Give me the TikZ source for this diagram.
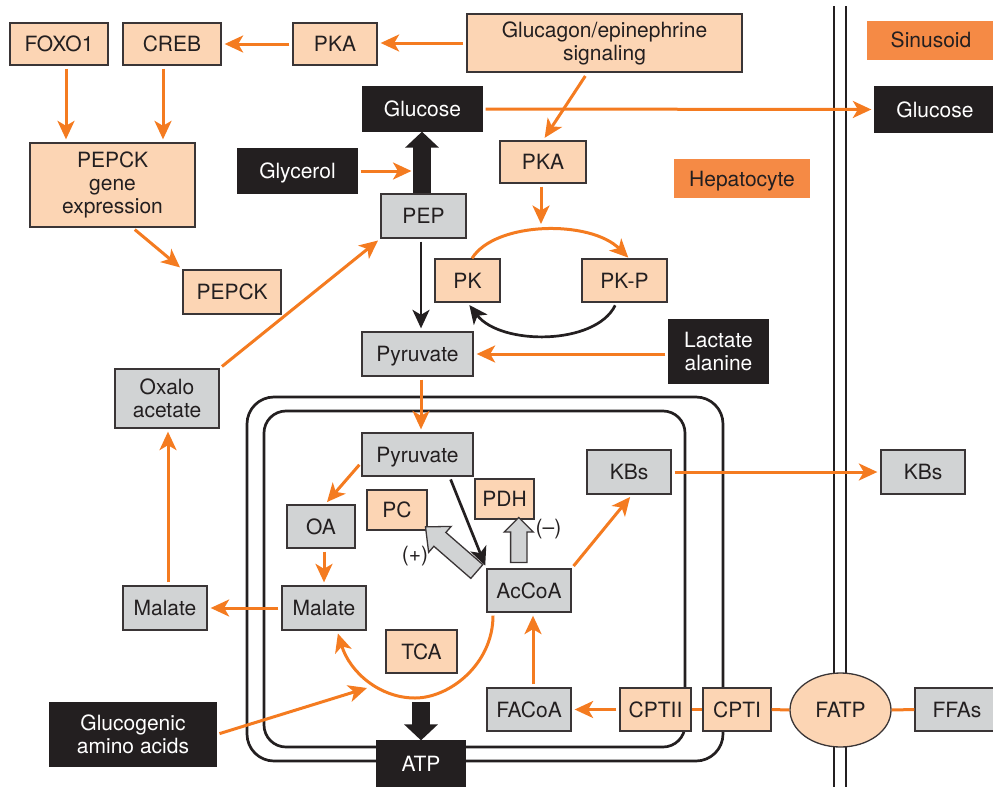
\documentclass[tikz,border=0pt]{standalone}
\usepackage{fontspec}
\setmainfont{TeX Gyre Heros}
\usetikzlibrary{arrows.meta,calc,shapes.geometric,shapes.arrows}

\definecolor{ink}{HTML}{231F20}
\definecolor{edge}{HTML}{3A3536}
\definecolor{peach}{HTML}{FCD5B4}
\definecolor{grayfill}{HTML}{D1D3D4}
\definecolor{arrorange}{HTML}{F47B20}
\definecolor{tagorange}{HTML}{F58A45}

\begin{document}
\begin{tikzpicture}[x=1pt, y=-1pt,
  font=\fontsize{21}{23}\selectfont,
  every node/.style={inner sep=0pt, align=center, text=ink},
  sz/.style 2 args={minimum width=#1pt, minimum height=#2pt},
  one/.style={text height=15.1pt, text depth=0pt},
  peachbox/.style={draw=edge, line width=1.3pt, fill=peach},
  graybox/.style={draw=edge, line width=1.3pt, fill=grayfill},
  inkbox/.style={draw=ink, line width=1.3pt, fill=ink, text=white},
  tagbox/.style={fill=tagorange},
  oarrow/.style={draw=arrorange, line width=3pt,
    -{Stealth[length=18.5pt,width=17pt,inset=5pt]}, shorten <=3pt, shorten >=3pt},
  karrow/.style={draw=ink, line width=2.7pt,
    -{Stealth[length=18.5pt,width=17pt,inset=5pt]}, shorten <=3pt, shorten >=3pt},
  oline/.style={draw=arrorange, line width=3pt},
  fatk/.style={draw=ink, line width=18pt, -{Triangle[length=16pt,width=33pt]}},
  blockarrow/.style={single arrow, draw=edge, line width=1.3pt, fill=grayfill,
    inner xsep=0pt, minimum width=0pt},
  membrane/.style={draw=ink, line width=2.7pt},
]
\useasboundingbox (0,0) rectangle (993,787);
\clip (0,0) rectangle (993,787);

% mitochondrial membranes and the sinusoidal wall
\draw[membrane, rounded corners=27pt] (247,397) rectangle (723,761);
\draw[membrane, rounded corners=22pt] (264,411) rectangle (685,747);
\draw[membrane, line width=2.5pt] (834,6) -- (834,787);
\draw[membrane, line width=2.5pt] (846,6) -- (846,787);

% nodes
\node[peachbox, sz={98}{42}, one] (foxo) at (59,44) {FOXO1};
\node[peachbox, sz={98}{42}, one] (creb) at (172,44) {CREB};
\node[peachbox, sz={84}{42}, one] (pkaA) at (335,44) {PKA};
\node[peachbox, sz={275}{58}] (gluc) at (604.5,43) {Glucagon/epinephrine\\signaling};
\node[tagbox, sz={128}{39}, one] (sinus) at (931,40) {Sinusoid};
\node[inkbox, sz={119}{44}, one] (glcA) at (422.5,109) {Glucose};
\node[inkbox, sz={120}{45}, one] (glcB) at (935,109.5) {Glucose};
\node[peachbox, sz={86}{42}, one] (pkaB) at (543,162) {PKA};
\node[tagbox, sz={136}{39}, one] (hepato) at (742,178.5) {Hepatocyte};
\node[inkbox, sz={119}{44}, one] (glycerol) at (297.5,171) {Glycerol};
\node[graybox, sz={85}{44}, one] (pep) at (423.5,216) {PEP};
\node[peachbox, sz={165}{84}] (pgene) at (112.5,185) {PEPCK\\gene\\expression};
\node[peachbox, sz={98}{44}, one] (pepck) at (232,292) {PEPCK};
\node[peachbox, sz={65}{43}, one] (pk) at (467.5,280.5) {PK};
\node[peachbox, sz={85}{43}, one] (pkp) at (624.5,280.5) {PK-P};
\node[graybox, sz={111}{44}, one] (pyrA) at (417.5,354) {Pyruvate};
\node[inkbox, sz={99}{63}] (lact) at (718.5,351.5) {Lactate\\alanine};
\node[graybox, sz={104}{59}] (oxalo) at (167,398.5) {Oxalo\\acetate};
\node[graybox, sz={111}{43}, one] (pyrB) at (417.5,454.5) {Pyruvate};
\node[graybox, sz={84}{44}, one] (kbsA) at (629,472) {KBs};
\node[graybox, sz={84}{44}, one] (kbsB) at (923,472) {KBs};
\node[peachbox, sz={59}{40}, one] (pdh) at (504.5,499) {PDH};
\node[peachbox, sz={60}{40}, one] (pc) at (397,510) {PC};
\node[graybox, sz={68}{43}, one] (oa) at (321,526.5) {OA};
\node[graybox, sz={84}{43}, one] (accoa) at (529,590.5) {AcCoA};
\node[graybox, sz={84}{44}, one] (malA) at (165,608) {Malate};
\node[graybox, sz={84}{44}, one] (malB) at (324,608) {Malate};
\node[peachbox, sz={71}{43}, one] (tca) at (421.5,651.5) {TCA};
\node[graybox, sz={84}{43}, one] (facoa) at (529,709.5) {FACoA};
\node[peachbox, sz={71}{43}, one] (cpt2) at (655.5,709.5) {CPTII};
\node[peachbox, sz={68}{43}, one] (cpt1) at (737,709.5) {CPTI};
\node[peachbox, ellipse, sz={101}{74}, one] (fatp) at (840.5,710) {FATP};
\node[graybox, sz={84}{43}, one] (ffas) at (957,709.5) {FFAs};
\node[inkbox, sz={166}{63}] (gaa) at (133,734.5) {Glucogenic\\amino acids};
\node[inkbox, sz={88}{45}, one] (atp) at (421,763.5) {ATP};

% allosteric effects of acetyl-CoA
\node[blockarrow, inner ysep=8.5pt, single arrow head extend=8pt,
  single arrow tip angle=84, minimum height=68pt, rotate=139]
  (pcarr) at ($(accoa.north west)!0.5!(pc.south east)+(-2,3)$) {};
\node[blockarrow, inner ysep=7.5pt, single arrow head extend=6.5pt,
  single arrow tip angle=90, minimum height=45pt, rotate=90]
  (pdharr) at ($(accoa.north)!0.5!(pdh.south)+(2,0)$) {};
\node (plus) at (415,556) {(+)};
\node (minus) at (548.5,529) {(–)};

% helper coordinates
\coordinate (xF) at (66,0);
\coordinate (xC) at (163,0);
\coordinate (xP) at (421,0);
\coordinate (xO) at (168,0);
\coordinate (xA) at (533,0);
\coordinate (cyctop) at (541,228);
\coordinate (tcabot) at (415,698);
\coordinate (tcain) at (367,688);

% signalling
\draw[oarrow] (gluc.west) -- (gluc.west -| pkaA.east);
\draw[oarrow] (pkaA.west) -- (creb.east);
\draw[oarrow] (foxo.south -| xF) -- (pgene.north -| xF);
\draw[oarrow] (creb.south -| xC) -- (pgene.north -| xC);
\draw[oarrow] ([xshift=20pt]pgene.south) -- (pepck.north west);
\draw[oarrow, shorten <=4pt] ([xshift=-17pt]gluc.south) -- (pkaB.north);
\draw[oarrow, shorten >=4pt] (pkaB.south -| cyctop) -- (cyctop);

% cytosolic gluconeogenesis
\draw[oarrow] (oxalo.north east) -- (pep.south west);
\draw[oarrow, shorten >=12pt] (glycerol.east) -- (glycerol.east -| pep.north);
\draw[fatk] ([xshift=-1.5pt]pep.north) -- ([xshift=-1.5pt]pep.north |- glcA.south);
\draw[oarrow] (glcA.east) -- (glcB.west);
\draw[oarrow, shorten <=0pt, shorten >=1pt] ([xshift=4.5pt]pk.north)
  .. controls +(23,-37) and +(-39,-39) .. ([xshift=4.5pt]pkp.north);
\draw[karrow] ([xshift=-8pt]pkp.south)
  .. controls +(-21,43) and +(33,43) .. (pk.south);
\draw[karrow] (pep.south -| xP) -- (pyrA.north -| xP);
\draw[oarrow] (lact.west |- pyrA.east) -- (pyrA.east);
\draw[oarrow] (pyrA.south -| xP) -- (pyrB.north -| xP);

% mitochondrial reactions
\draw[oarrow] ([yshift=-8pt]pyrB.west) -- ([xshift=4pt]oa.north);
\draw[karrow] ([xshift=32pt]pyrB.south) -- (accoa.north west);
\draw[oarrow] (oa.south -| malB.north) -- (malB.north);
\draw[oarrow] (malB.west) -- (malA.east);
\draw[oarrow] (malA.north -| xO) -- (oxalo.south -| xO);
\draw[oarrow] (accoa.north east) -- ([xshift=3pt]kbsA.south);
\draw[oarrow] (kbsA.east) -- (kbsB.west);
\draw[oarrow] (facoa.north -| xA) -- (accoa.south -| xA);
\draw[oarrow] (cpt2.west) -- (facoa.east);
\draw[oline] (cpt2.east) -- (cpt1.west);
\draw[oline] (cpt1.east) -- (fatp.west);
\draw[oline] (fatp.east) -- (ffas.west);
\draw[oarrow] ([xshift=-36pt]accoa.south)
  .. controls +(0,51) and +(35,0) .. (tcabot)
  .. controls +(-35,0) and +(13,42) .. ([xshift=13pt]malB.south);
\draw[oarrow, shorten >=0pt] (gaa.east) -- (tcain);
\draw[fatk] ([yshift=38pt]atp.north) -- (atp.north);
\end{tikzpicture}
\end{document}
